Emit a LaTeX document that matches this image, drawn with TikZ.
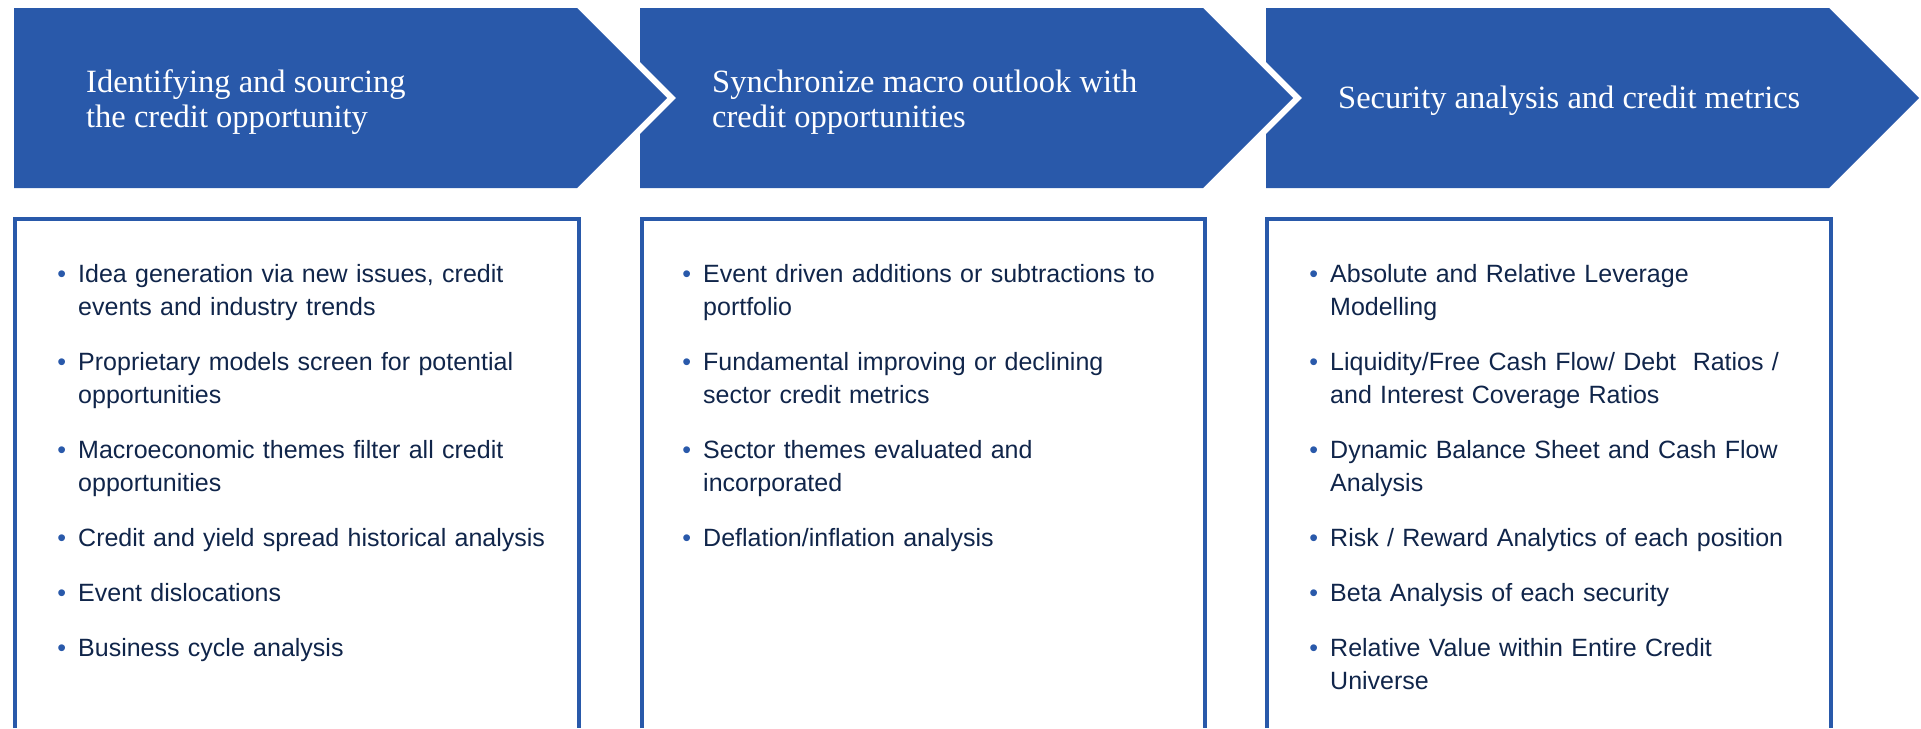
\documentclass[tikz,border=0pt]{standalone}
\usepackage{fontspec}
\setmainfont{Liberation Serif}
\newfontfamily\bodyfont{Liberation Sans}
\usetikzlibrary{positioning}
\definecolor{chevblue}{RGB}{41,89,170}
\definecolor{itemnavy}{RGB}{16,37,74}
\newcommand{\blt}{\leavevmode\strut\llap{\textcolor{chevblue}{•}\hspace{12pt}}}
\begin{document}
\begin{tikzpicture}[x=1pt,y=-1pt,
    chevron/.style={fill=chevblue},
    headtext/.style={anchor=west,inner sep=0pt,align=left,text=white,font=\fontsize{32.5}{35}\selectfont},
    listbox/.style={draw=chevblue,line width=4pt},
    listtext/.style={anchor=north west,inner sep=0pt,text width=500pt,align=left,text=itemnavy,font=\bodyfont\fontsize{25}{33}\selectfont}]
    \useasboundingbox (0,0) rectangle (1921,728);

    \fill[chevron] (14,8) -- (577,8) -- (667,98) -- (577,188) -- (14,188) -- cycle;
    \fill[chevron] (640,8) -- (1203,8) -- (1293,98) -- (1203,188) -- (640,188) -- (640,134) -- (676,98) -- (640,62) -- cycle;
    \fill[chevron] (1266,8) -- (1829,8) -- (1919,98) -- (1829,188) -- (1266,188) -- (1266,134) -- (1302,98) -- (1266,62) -- cycle;

    \node[headtext] (head1) at (86,102) {Identifying and sourcing\\the credit opportunity};
    \node[headtext] (head2) at (712,102) {Synchronize macro outlook with\\credit opportunities};
    \node[headtext] (head3) at (1338,101) {Security analysis and credit metrics};

    \draw[listbox] (15,728) -- (15,219) -- (579,219) -- (579,728);
    \draw[listbox] (642,728) -- (642,219) -- (1205,219) -- (1205,728);
    \draw[listbox] (1267,728) -- (1267,219) -- (1831,219) -- (1831,728);

    \node[listtext] (list1) at (78,259) {\blt Idea generation via new issues, credit\\events and industry trends\\[22pt]
        \blt Proprietary models screen for potential\\opportunities\\[22pt]
        \blt Macroeconomic themes filter all credit\\opportunities\\[22pt]
        \blt Credit and yield spread historical analysis\\[22pt]
        \blt Event dislocations\\[22pt]
        \blt Business cycle analysis};
    \node[listtext] (list2) at (703,259) {\blt Event driven additions or subtractions to\\portfolio\\[22pt]
        \blt Fundamental improving or declining\\sector credit metrics\\[22pt]
        \blt Sector themes evaluated and\\incorporated\\[22pt]
        \blt Deflation/inflation analysis};
    \node[listtext] (list3) at (1330,259) {\blt Absolute and Relative Leverage\\Modelling\\[22pt]
        \blt Liquidity/Free Cash Flow/ Debt~~Ratios /\\and Interest Coverage Ratios\\[22pt]
        \blt Dynamic Balance Sheet and Cash Flow\\Analysis\\[22pt]
        \blt Risk / Reward Analytics of each position\\[22pt]
        \blt Beta Analysis of each security\\[22pt]
        \blt Relative Value within Entire Credit\\Universe};
\end{tikzpicture}
\end{document}
